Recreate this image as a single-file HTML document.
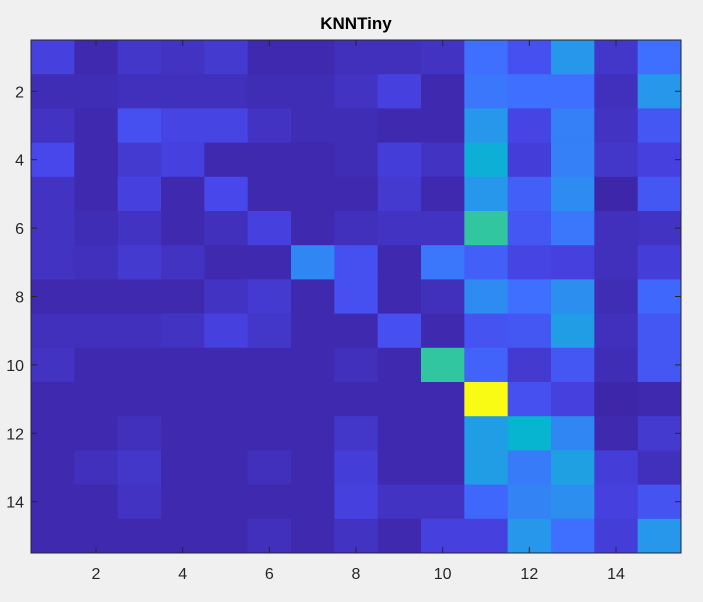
<!DOCTYPE html>
<html><head><meta charset="utf-8"><style>
body{margin:0;background:#f0f0f0;width:703px;height:597px;overflow:hidden;font-family:"Liberation Sans",sans-serif}
</style></head><body>
<svg id="chart" width="703" height="597" xmlns="http://www.w3.org/2000/svg">
<rect width="703" height="597" fill="#f0f0f0"/>
<text x="356" y="29" text-anchor="middle" font-size="17" font-weight="bold" fill="#000">KNNTiny</text>
<g id="cells"></g><g id="axes"></g>
</svg>
<script>
const rowLabels=[1,2,3,4,5,6,7,8,9,10,11,12,13,14,15];
const colLabels=[1,2,3,4,5,6,7,8,9,10,11,12,13,14,15];
const xTicks=[2,4,6,8,10,12,14];
const yTicks=[2,4,6,8,10,12,14];
const values=[
[0.08,0.01,0.05,0.04,0.06,0.01,0.01,0.03,0.03,0.04,0.20,0.12,0.30,0.05,0.20],
[0.02,0.02,0.03,0.03,0.03,0.02,0.02,0.04,0.08,0.01,0.22,0.20,0.20,0.03,0.30],
[0.04,0.01,0.12,0.09,0.09,0.04,0.02,0.02,0.01,0.01,0.30,0.09,0.24,0.04,0.14],
[0.10,0.01,0.06,0.08,0.01,0.01,0.01,0.02,0.07,0.04,0.38,0.07,0.24,0.05,0.08],
[0.04,0.01,0.08,0.01,0.10,0.01,0.01,0.01,0.06,0.01,0.30,0.16,0.27,0.00,0.14],
[0.04,0.02,0.04,0.01,0.03,0.08,0.01,0.03,0.04,0.04,0.50,0.14,0.22,0.03,0.04],
[0.04,0.03,0.06,0.04,0.01,0.01,0.26,0.12,0.01,0.22,0.16,0.09,0.08,0.03,0.07],
[0.01,0.01,0.01,0.01,0.04,0.06,0.01,0.12,0.01,0.03,0.27,0.20,0.28,0.02,0.18],
[0.03,0.03,0.03,0.04,0.08,0.05,0.01,0.01,0.12,0.01,0.13,0.14,0.32,0.03,0.14],
[0.04,0.01,0.01,0.01,0.01,0.01,0.01,0.03,0.01,0.50,0.17,0.06,0.14,0.02,0.14],
[0.01,0.01,0.01,0.01,0.01,0.01,0.01,0.01,0.01,0.01,1.00,0.12,0.08,0.00,0.01],
[0.01,0.01,0.03,0.01,0.01,0.01,0.01,0.05,0.01,0.01,0.32,0.40,0.26,0.01,0.06],
[0.01,0.03,0.05,0.01,0.01,0.03,0.01,0.07,0.01,0.01,0.32,0.23,0.33,0.07,0.03],
[0.01,0.01,0.04,0.01,0.01,0.01,0.01,0.08,0.04,0.04,0.18,0.25,0.28,0.08,0.13],
[0.01,0.01,0.01,0.01,0.01,0.03,0.01,0.04,0.01,0.08,0.08,0.30,0.20,0.07,0.30]
];
const L=31,R=681,T=40,B=553,n=15;
const cw=(R-L)/n,ch=(B-T)/n;
const xs=c=>L+(c-0.5)*cw, ys=r=>T+(r-0.5)*ch;
const P=[[0.2422,0.1504,0.6603],[0.2803,0.2782,0.9221],[0.2440,0.4358,0.9988],[0.1540,0.5902,0.9218],[0.0297,0.7082,0.8163],[0.1938,0.7758,0.6251],[0.5044,0.7993,0.3480],[0.8000,0.7491,0.1540],[0.9932,0.7440,0.2390],[0.9730,0.8940,0.1500],[0.9769,0.9839,0.0805]];
function parula(v){v=Math.max(0,Math.min(1,v))*10;const i=Math.min(9,Math.floor(v)),f=v-i;
 return 'rgb('+[0,1,2].map(k=>Math.round(255*(P[i][k]+(P[i+1][k]-P[i][k])*f))).join(',')+')';}
const NS='http://www.w3.org/2000/svg';
const cells=document.getElementById('cells'),axes=document.getElementById('axes');
function mk(t,a,p){const e=document.createElementNS(NS,t);for(const k in a)e.setAttribute(k,a[k]);p.appendChild(e);return e;}
rowLabels.forEach((rl,ri)=>colLabels.forEach((cl,ci)=>{
 const e=mk('rect',{x:xs(cl)-cw/2,y:ys(rl)-ch/2,width:cw+0.5,height:ch+0.5,fill:parula(values[ri][ci])},cells);
 
 
}));
const box=mk('rect',{x:L,y:T,width:R-L,height:B-T,fill:'none',stroke:'#262626','stroke-width':1},axes);


xTicks.forEach(t=>{const x=xs(t);
 mk('line',{x1:x,x2:x,y1:B,y2:B-6,stroke:'#262626'},axes);
 mk('line',{x1:x,x2:x,y1:T,y2:T+6,stroke:'#262626'},axes);
 const tx=mk('text',{x:x,y:B+26,'text-anchor':'middle','font-size':16,fill:'#262626'},axes);tx.textContent=t;
 
 
});
yTicks.forEach(t=>{const y=ys(t);
 mk('line',{x1:L,x2:L+6,y1:y,y2:y,stroke:'#262626'},axes);
 mk('line',{x1:R,x2:R-6,y1:y,y2:y,stroke:'#262626'},axes);
 const tx=mk('text',{x:L-7,y:y+6,'text-anchor':'end','font-size':16,fill:'#262626'},axes);tx.textContent=t;
 
 
});
</script>
</body></html>
